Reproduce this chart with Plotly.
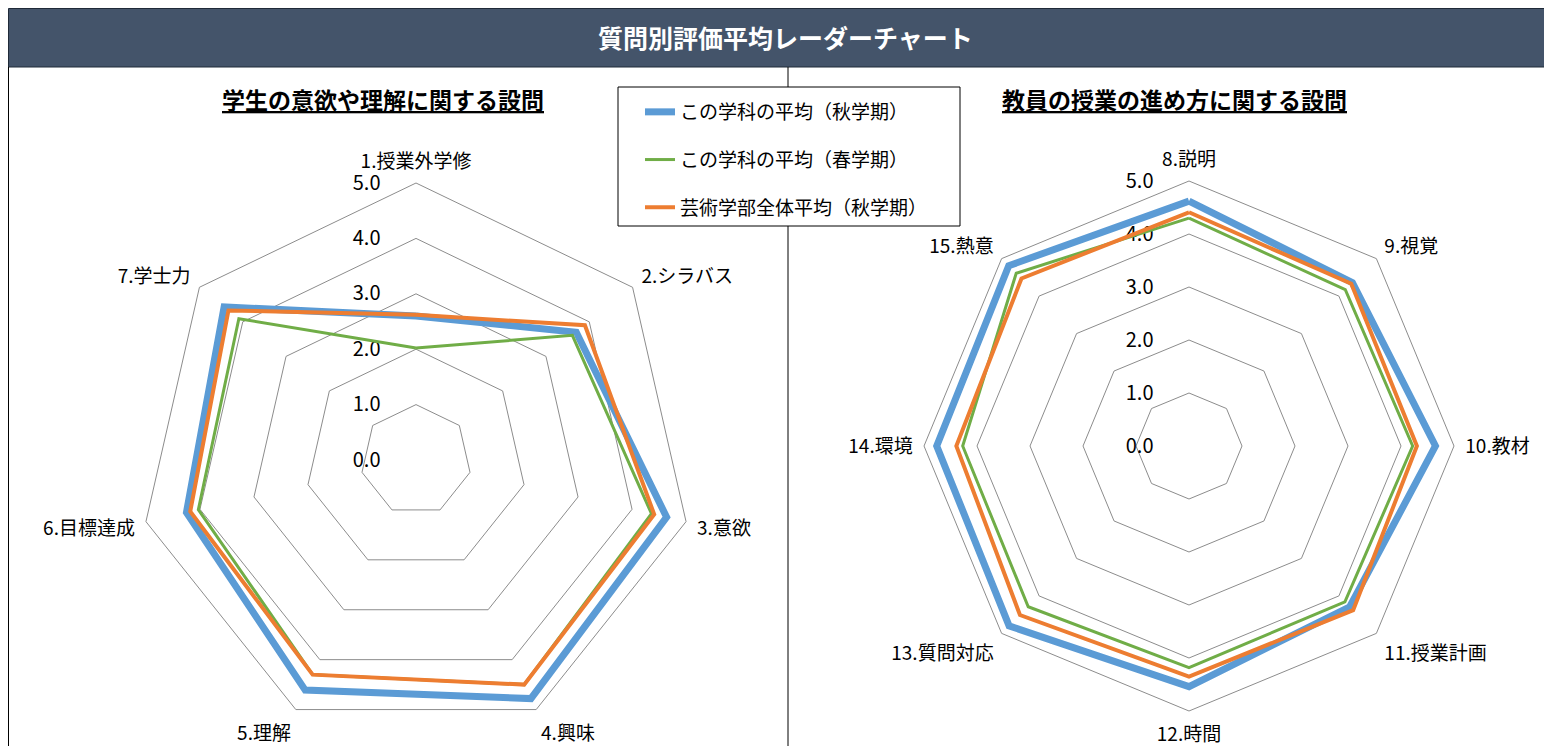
import plotly.graph_objects as go

# ---- data ----
left_categories = ["1.授業外学修", "2.シラバス", "3.意欲", "4.興味", "5.理解", "6.目標達成", "7.学士力"]
left_autumn = [2.60, 3.70, 4.64, 4.78, 4.61, 4.25, 4.43]
left_spring = [2.02, 3.61, 4.36, 4.50, 4.30, 4.03, 4.09]
left_faculty = [2.62, 3.90, 4.41, 4.50, 4.30, 4.18, 4.33]

right_categories = ["8.説明", "9.視覚", "10.教材", "11.授業計画", "12.時間", "13.質問対応", "14.環境", "15.熱意"]
right_autumn = [4.62, 4.36, 4.65, 4.29, 4.54, 4.80, 4.76, 4.81]
right_spring = [4.30, 4.17, 4.22, 4.16, 4.18, 4.29, 4.27, 4.61]
right_faculty = [4.41, 4.33, 4.30, 4.38, 4.35, 4.51, 4.39, 4.47]

series_names = ["この学科の平均（秋学期）", "この学科の平均（春学期）", "芸術学部全体平均（秋学期）"]
series_colors = ["#5B9BD5", "#70AD47", "#ED7D31"]
series_widths = [7, 3, 4]

main_title = "質問別評価平均レーダーチャート"
left_title = "学生の意欲や理解に関する設問"
right_title = "教員の授業の進め方に関する設問"
radial_ticks = [0, 1, 2, 3, 4, 5]

FONT = "Noto Sans CJK JP"
W, H = 1544, 738


def closed(vals):
    return list(vals) + [vals[0]]


fig = go.Figure()

left_series = [left_autumn, left_spring, left_faculty]
right_series = [right_autumn, right_spring, right_faculty]

for i, (name, color, width) in enumerate(zip(series_names, series_colors, series_widths)):
    fig.add_trace(go.Scatterpolar(
        r=closed(left_series[i]), theta=closed(left_categories),
        mode="lines", name=name, legendgroup=f"g{i}",
        line=dict(color=color, width=width), subplot="polar",
        showlegend=True,
    ))
for i, (name, color, width) in enumerate(zip(series_names, series_colors, series_widths)):
    fig.add_trace(go.Scatterpolar(
        r=closed(right_series[i]), theta=closed(right_categories),
        mode="lines", name=name, legendgroup=f"g{i}",
        line=dict(color=color, width=width), subplot="polar2",
        showlegend=False,
    ))


def px(x):
    return x / W


def py(y):
    return 1 - y / H


def polar_layout(cx, cy, R, cats):
    return dict(
        domain=dict(x=[px(cx - R), px(cx + R)], y=[py(cy + R), py(cy - R)]),
        bgcolor="white",
        gridshape="linear",
        angularaxis=dict(
            direction="clockwise", rotation=90, showgrid=False,
            showline=True, linecolor="#8c8c8c", linewidth=1,
            ticks="outside", ticklen=7, tickcolor="rgba(0,0,0,0)",
            categoryorder="array", categoryarray=cats,
            tickfont=dict(family=FONT, size=19, color="black"),
        ),
        radialaxis=dict(
            range=[0, 5], tickvals=radial_ticks, tickformat=".1f",
            showline=False, gridcolor="#8c8c8c", gridwidth=1,
            angle=90, side="counterclockwise", tickangle=90,
            ticks="outside", ticklen=28, tickcolor="rgba(0,0,0,0)",
            tickfont=dict(family=FONT, size=20, color="black"),
            layer="below traces",
        ),
    )


shapes = [
    # title bar
    dict(type="rect", xref="paper", yref="paper", x0=px(0.5), x1=1.0, y0=py(59), y1=py(0.5),
         fillcolor="#44546A", line=dict(color="#1f2a38", width=1), layer="below"),
    # left border
    dict(type="line", xref="paper", yref="paper", x0=px(0.5), x1=px(0.5), y0=0, y1=py(59),
         line=dict(color="black", width=1), layer="below"),
    # divider
    dict(type="line", xref="paper", yref="paper", x0=px(780), x1=px(780), y0=0, y1=py(59),
         line=dict(color="black", width=1), layer="below"),
    # legend box
    dict(type="rect", xref="paper", yref="paper", x0=px(610), x1=px(952), y0=py(218), y1=py(79),
         fillcolor="white", line=dict(color="black", width=1), layer="above"),
]

annotations = [
    dict(text=f"<b>{main_title}</b>", x=px(777), y=py(29), xref="paper", yref="paper",
         xanchor="center", yanchor="middle",
         showarrow=False, font=dict(family=FONT, size=25, color="white")),
    dict(text=f"<b><u>{left_title}</u></b>", x=px(375), y=py(91), xref="paper", yref="paper",
         xanchor="center", yanchor="middle",
         showarrow=False, font=dict(family=FONT, size=23, color="black")),
    dict(text=f"<b><u>{right_title}</u></b>", x=px(1166), y=py(91), xref="paper", yref="paper",
         xanchor="center", yanchor="middle",
         showarrow=False, font=dict(family=FONT, size=23, color="black")),
]

fig.update_layout(
    width=W, height=H,
    margin=dict(l=0, r=0, t=0, b=0),
    paper_bgcolor="white",
    font=dict(family=FONT, color="black"),
    polar=polar_layout(408, 452, 277, left_categories),
    polar2=polar_layout(1181, 438, 265, right_categories),
    shapes=shapes,
    annotations=annotations,
    showlegend=True,
    legend=dict(
        x=px(632), y=py(85), xanchor="left", yanchor="top",
        bgcolor="rgba(0,0,0,0)", borderwidth=0,
        font=dict(family=FONT, size=19, color="black"),
        traceorder="grouped", tracegroupgap=20,
    ),
)

fig.write_html("out.html")
